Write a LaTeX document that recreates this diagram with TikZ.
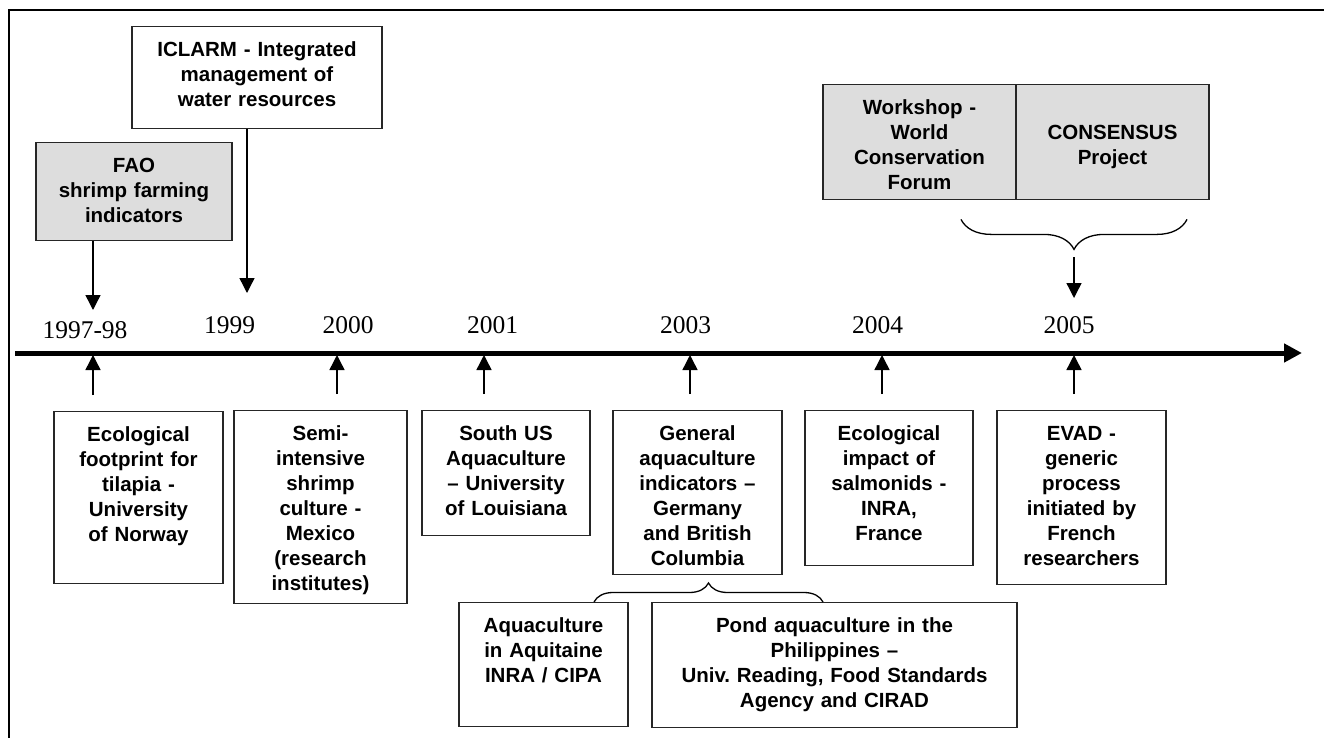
\documentclass[tikz,border=0pt]{standalone}
\usepackage{fontspec}
\setsansfont{Liberation Sans}
\newfontfamily\jahrfont{Liberation Serif}
\usetikzlibrary{arrows.meta}
\usetikzlibrary{decorations.pathreplacing}
\definecolor{kastengrau}{RGB}{221,221,221}
\frenchspacing

\tikzset{
  kasten/.style={draw=black!85, line width=1.4pt, anchor=north, inner xsep=0pt, inner ysep=0pt,
    text height=30pt, align=center, font=\sffamily\bfseries\fontsize{20.5}{25}\selectfont},
  kastengr/.style={kasten, fill=kastengrau},
  jahr/.style={anchor=base, inner sep=0pt, font=\jahrfont\fontsize{25.5}{30}\selectfont},
  pfeil/.style={line width=1.4pt, -{Triangle[length=15pt,width=15pt]}},
  klammer/.style={line width=1.3pt, decorate, decoration={brace, amplitude=#1}}
}

\begin{document}
\begin{tikzpicture}[x=1pt, y=-1pt] % Pixelkoordinaten, y nach unten

    \useasboundingbox (0,0) rectangle (1324,738);

    % Rahmen (nur links und oben sichtbar)
    \draw[line width=2pt] (9,738) -- (9,10) -- (1324,10);

    % Zeitachse
    \coordinate (achseA) at (15,353);
    \coordinate (achseB) at (1302,353);
    \draw[line width=5pt, -{Triangle[length=18pt,width=18pt]}] (achseA) -- (achseB);

    % Jahreszahlen
    \foreach \x/\y/\j in {85/338/1997-98, 229.5/333/1999, 348/333/2000, 492.5/333/2001,
                          685.5/333/2003, 877.5/333/2004, 1069/333/2005} {
        \node[jahr] (j\j) at (\x,\y) {\j};
    }

    % Kaesten oben
    \node[kasten, text width=250pt, text depth=72pt] (iclarm) at (257,26)
        {ICLARM - Integrated\\management of\\water resources};
    \node[kastengr, text width=196pt, text depth=68pt] (fao) at (134,142)
        {FAO\\shrimp farming\\indicators};
    \node[kastengr, text width=193pt, text depth=85pt] (workshop) at (919.5,84)
        {Workshop -\\World\\Conservation\\Forum};
    \node[kastengr, text width=193pt, text height=55pt, text depth=60pt] (consensus) at (1112.5,84)
        {CONSENSUS\\Project};

    % Kaesten unten
    \node[kasten, text width=169pt, text depth=142pt] (eco) at (138.5,411)
        {Ecological\\footprint for\\tilapia -\\University\\of Norway};
    \node[kasten, text width=173pt, text depth=163pt] (semi) at (320.5,410)
        {Semi-\\intensive\\shrimp\\culture -\\Mexico\\(research\\institutes)};
    \node[kasten, text width=168pt, text depth=95pt] (southus) at (506,410)
        {South US\\Aquaculture\\– University\\of Louisiana};
    \node[kasten, text width=169pt, text depth=134pt] (general) at (697.5,410)
        {General\\aquaculture\\indicators –\\Germany\\and British\\Columbia};
    \node[kasten, text width=168pt, text depth=125pt] (impact) at (889,410)
        {Ecological\\impact of\\salmonids -\\INRA,\\France};
    \node[kasten, text width=169pt, text depth=144pt] (evad) at (1081.5,410)
        {EVAD -\\generic\\process\\initiated by\\French\\researchers};
    \node[kasten, text width=169pt, text depth=94pt] (aqui) at (543.5,602)
        {Aquaculture\\in Aquitaine\\INRA / CIPA};
    \node[kasten, text width=365pt, text depth=95pt] (pond) at (834.5,602)
        {Pond aquaculture in the\\Philippines –\\Univ. Reading, Food Standards\\Agency and CIRAD};

    % Pfeile nach unten auf die Achse
    \coordinate (d97) at (93,310);
    \coordinate (d99) at (247,293);
    \coordinate (k05) at (1074,257);
    \coordinate (d05) at (1074,298);
    \draw[pfeil] (fao.south -| d97) -- (d97);
    \draw[pfeil] (iclarm.south -| d99) -- (d99);
    \draw[pfeil] (k05) -- (d05);

    % Pfeile von unten auf die Achse
    \foreach \b/\n/\x in {eco/97/93, semi/00/337, southus/01/484, general/03/690, impact/04/882, evad/05/1074} {
        \coordinate (a\n) at (\x,355);
        \draw[pfeil, shorten <=16pt] (\b.north -| a\n) -- (a\n);
    }

    % Klammern
    \draw[klammer=30pt, decoration={mirror}] ([shift={(41.5,19)}]workshop.south) -- ([shift={(74.5,19)}]consensus.south);
    \draw[klammer=19pt] ([xshift=50.5pt]aqui.north) -- ([xshift=-11.5pt]pond.north);

\end{tikzpicture}
\end{document}
